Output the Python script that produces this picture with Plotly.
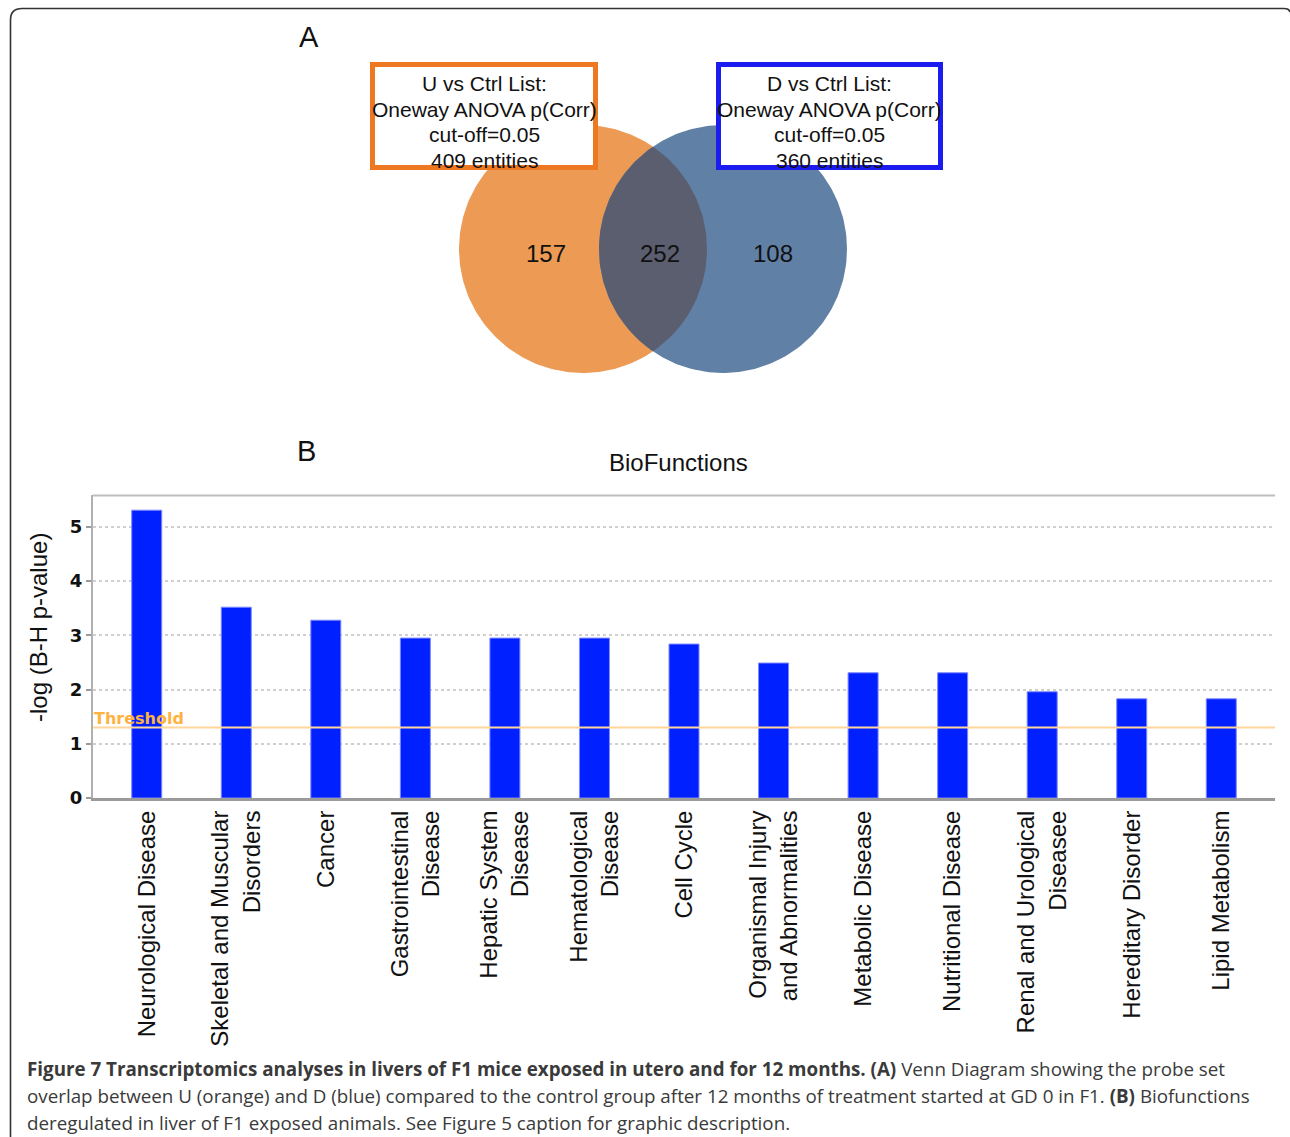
import numpy as np
import plotly.graph_objects as go

W, H = 1290, 1137

# ---------------- data ----------------
categories = ["Neurological Disease", "Skeletal and Muscular Disorders", "Cancer",
              "Gastrointestinal Disease", "Hepatic System Disease", "Hematological Disease",
              "Cell Cycle", "Organismal Injury and Abnormalities", "Metabolic Disease",
              "Nutritional Disease", "Renal and Urological Diseasee", "Hereditary Disorder",
              "Lipid Metabolism"]
tick_labels = ["Neurological Disease", "Skeletal and Muscular<br>Disorders", "Cancer",
               "Gastrointestinal<br>Disease", "Hepatic System<br>Disease", "Hematological<br>Disease",
               "Cell Cycle", "Organismal Injury<br>and Abnormalities", "Metabolic Disease",
               "Nutritional Disease", "Renal and Urological<br>Diseasee", "Hereditary Disorder",
               "Lipid Metabolism"]
neg_log_p = [5.31, 3.52, 3.28, 2.95, 2.95, 2.95, 2.84, 2.49, 2.31, 2.31, 1.96, 1.83, 1.83]
threshold = 1.3
y_ticks = [0, 1, 2, 3, 4, 5]

venn_only_U = 157
venn_both = 252
venn_only_D = 108
list_U = ["U vs Ctrl List:", "Oneway ANOVA p(Corr)", "cut-off=0.05", "409 entities"]
list_D = ["D vs Ctrl List:", "Oneway ANOVA p(Corr)", "cut-off=0.05", "360 entities"]

caption_lines = [
    "<b>Figure 7 Transcriptomics analyses in livers of F1 mice exposed in utero and for 12 months. (A)</b> Venn Diagram showing the probe set",
    "overlap between U (orange) and D (blue) compared to the control group after 12 months of treatment started at GD 0 in F1. <b>(B)</b> Biofunctions",
    "deregulated in liver of F1 exposed animals. See Figure 5 caption for graphic description.",
]

# ---------------- layout geometry (pixels) ----------------
def fx(x):
    return x / W

def fy(y):
    return 1 - y / H

fig = go.Figure()

# ---- bar chart ----
fig.add_trace(go.Bar(
    x=categories, y=neg_log_p, width=0.335,
    marker=dict(color="#0020ff", line=dict(color="#7c88ff", width=1)),
    xaxis="x", yaxis="y", showlegend=False, hoverinfo="x+y",
))

# ---- venn (pixel-space overlay axes) ----
r = 124
cy = 249
c1x, c2x = 583, 723
t = np.linspace(0, 2 * np.pi, 240)
fig.add_trace(go.Scatter(x=c1x + r * np.cos(t), y=cy + r * np.sin(t), fill="toself",
                         fillcolor="#ec9a54", line=dict(width=0), mode="lines",
                         xaxis="x2", yaxis="y2", showlegend=False, hoverinfo="skip"))
fig.add_trace(go.Scatter(x=c2x + r * np.cos(t), y=cy + r * np.sin(t), fill="toself",
                         fillcolor="#6180a6", line=dict(width=0), mode="lines",
                         xaxis="x2", yaxis="y2", showlegend=False, hoverinfo="skip"))
d = c2x - c1x
th = np.arccos(d / 2 / r)
a1 = np.linspace(-th, th, 80)
a2 = np.linspace(np.pi - th, np.pi + th, 80)
lx = np.concatenate([c1x + r * np.cos(a1), c2x + r * np.cos(a2)])
ly = np.concatenate([cy + r * np.sin(a1), cy + r * np.sin(a2)])
fig.add_trace(go.Scatter(x=lx, y=ly, fill="toself", fillcolor="#5b5e6f",
                         line=dict(width=0), mode="lines",
                         xaxis="x2", yaxis="y2", showlegend=False, hoverinfo="skip"))

shapes = []
# venn list boxes
shapes.append(dict(type="rect", xref="x2", yref="y2", x0=372.5, x1=595.5, y0=64.5, y1=167.5,
                   line=dict(color="#ee7722", width=5), fillcolor="white", layer="above"))
shapes.append(dict(type="rect", xref="x2", yref="y2", x0=718.5, x1=940.5, y0=64.5, y1=167.5,
                   line=dict(color="#1c1cf0", width=5), fillcolor="white", layer="above"))
# outer frame
shapes.append(dict(type="path", xref="x2", yref="y2",
                   path="M 10.5,1137 L 10.5,20 Q 10.5,8.5 22,8.5 L 1284,8.5 Q 1289,8.5 1290,12",
                   line=dict(color="#333333", width=1.6), layer="above"))
# top border of the bar plot
shapes.append(dict(type="line", xref="paper", yref="paper", x0=fx(93), x1=fx(1275),
                   y0=fy(495.5), y1=fy(495.5), line=dict(color="#bdbdbd", width=2)))
# threshold line
shapes.append(dict(type="line", xref="x domain", yref="y", x0=0, x1=1, y0=threshold, y1=threshold,
                   line=dict(color="#ffd699", width=2), layer="above"))

annotations = []
box_line_y = [83, 109, 134, 160]
for i, txt in enumerate(list_U):
    annotations.append(dict(xref="x2", yref="y2", x=484, y=box_line_y[i], text=txt, showarrow=False,
                            font=dict(family="Liberation Sans", size=21, color="#111111"),
                            xanchor="center", yanchor="middle"))
for i, txt in enumerate(list_D):
    annotations.append(dict(xref="x2", yref="y2", x=829, y=box_line_y[i], text=txt, showarrow=False,
                            font=dict(family="Liberation Sans", size=21, color="#111111"),
                            xanchor="center", yanchor="middle"))
for val, xx in [(venn_only_U, 546), (venn_both, 660), (venn_only_D, 773)]:
    annotations.append(dict(xref="x2", yref="y2", x=xx, y=253, text=str(val), showarrow=False,
                            font=dict(family="Liberation Sans", size=24, color="#111111"),
                            xanchor="center", yanchor="middle"))
# panel letters and titles
annotations.append(dict(xref="x2", yref="y2", x=309, y=37, text="A", showarrow=False,
                        font=dict(family="Liberation Sans", size=29, color="#111111")))
annotations.append(dict(xref="x2", yref="y2", x=306, y=451, text="B", showarrow=False,
                        font=dict(family="Liberation Sans", size=29, color="#111111")))
annotations.append(dict(xref="x2", yref="y2", x=678, y=462, text="BioFunctions", showarrow=False,
                        font=dict(family="Liberation Sans", size=24, color="#111111")))
annotations.append(dict(xref="x2", yref="y2", x=38, y=628, text="-log (B-H p-value)", showarrow=False,
                        textangle=-90,
                        font=dict(family="Liberation Sans", size=24, color="#111111")))
annotations.append(dict(xref="x domain", yref="y", x=0, y=threshold, text="<b>Threshold</b>",
                        showarrow=False, xanchor="left", yanchor="bottom", xshift=-1, yshift=-2,
                        font=dict(family="DejaVu Sans", size=16, color="#ffb23f")))
# caption
cap_y = [1069, 1096, 1123]
for i, line in enumerate(caption_lines):
    annotations.append(dict(xref="x2", yref="y2", x=25, y=cap_y[i], text=line, showarrow=False,
                            xanchor="left", yanchor="middle", align="left",
                            font=dict(family="Open Sans", size=18.8, color="#3a3a3a")))

fig.update_layout(
    width=W, height=H, autosize=False,
    margin=dict(l=0, r=0, t=0, b=0, pad=0, autoexpand=False),
    paper_bgcolor="white", plot_bgcolor="rgba(0,0,0,0)",
    showlegend=False,
    shapes=shapes, annotations=annotations,
    xaxis=dict(domain=[fx(93), fx(1275)], range=[-0.6, 12.6], anchor="y", automargin=False,
               type="category", tickmode="array", tickvals=categories, ticktext=tick_labels,
               tickangle=-90, ticks="", ticklabelstandoff=0,
               tickfont=dict(family="Liberation Sans", size=24, color="#111111"),
               showline=True, linecolor="#9a9a9a", linewidth=3, showgrid=False, zeroline=False),
    yaxis=dict(domain=[fy(798), fy(495)], range=[0, 5.59], anchor="x", automargin=False,
               tickmode="array", tickvals=y_ticks, ticks="outside", ticklen=5, tickcolor="#9a9a9a",
               tickwidth=1.5,
               tickfont=dict(family="DejaVu Sans", size=18, color="#111111", weight="bold"),
               showline=True, linecolor="#b0b0b0", linewidth=2,
               showgrid=True, gridcolor="#cfcfcf", gridwidth=1.5, griddash="dot",
               zeroline=False),
    xaxis2=dict(domain=[0, 1], range=[0, W], anchor="y2", visible=False, fixedrange=True,
                automargin=False),
    yaxis2=dict(domain=[0, 1], range=[H, 0], anchor="x2", visible=False, fixedrange=True,
                automargin=False),
)

fig.write_html(
    "out.html",
    config={"displayModeBar": False, "responsive": False},
    post_script=(
        "document.documentElement.style.overflow='hidden';"
        "document.body.style.margin='0';document.body.style.padding='0';"
    ),
)
